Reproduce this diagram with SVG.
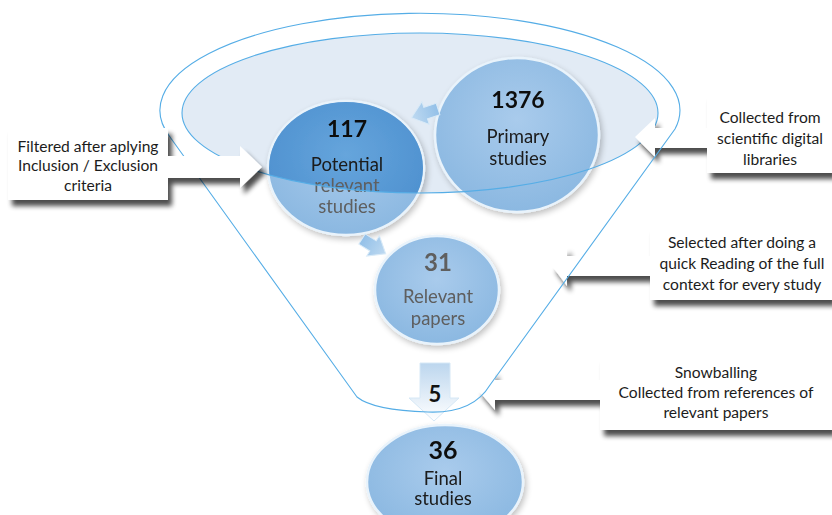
<svg xmlns="http://www.w3.org/2000/svg" width="832" height="515" viewBox="0 0 832 515">
<style>
.lbl{font-family:Lato,"Open Sans","Liberation Sans",sans-serif;font-size:15.6px;fill:#1c1c1c;text-anchor:middle}
.num{font-family:Lato,"Open Sans","Liberation Sans",sans-serif;font-weight:bold;text-anchor:middle;fill:#111}
.ctxt{font-family:Lato,"Open Sans","Liberation Sans",sans-serif;font-size:18.5px;text-anchor:middle;fill:#1a1a1a}
.grey{fill:#5e5e5e}
.outline{fill:none;stroke:#55ade6;stroke-width:1.1}
.callout{fill:#fff;filter:url(#shadow)}
.rim{stroke:#e9f3fb;stroke-width:2.5}
.small{fill:url(#arrowGrad);stroke:#d6e8f6;stroke-width:1}
</style>
<defs>
<filter id="shadow" x="-20%" y="-20%" width="140%" height="160%">
<feGaussianBlur in="SourceAlpha" stdDeviation="2.5"/>
<feOffset dx="4" dy="6" result="b"/>
<feComponentTransfer><feFuncA type="linear" slope="0.7"/></feComponentTransfer>
<feMerge><feMergeNode/><feMergeNode in="SourceGraphic"/></feMerge>
</filter>
<filter id="cshadow" x="-20%" y="-20%" width="140%" height="140%">
<feGaussianBlur in="SourceAlpha" stdDeviation="3"/>
<feOffset dx="2" dy="3"/>
<feComponentTransfer><feFuncA type="linear" slope="0.25"/></feComponentTransfer>
<feMerge><feMergeNode/><feMergeNode in="SourceGraphic"/></feMerge>
</filter>
<radialGradient id="lightBlue" cx="50%" cy="40%" r="60%">
<stop offset="0" stop-color="#a9cbec"/>
<stop offset="1" stop-color="#8bb8e1"/>
</radialGradient>
<radialGradient id="darkBlue" cx="50%" cy="40%" r="60%">
<stop offset="0" stop-color="#66a5dc"/>
<stop offset="1" stop-color="#4d90cf"/>
</radialGradient>
<linearGradient id="arrowGrad" x1="0" y1="0" x2="0" y2="1">
<stop offset="0" stop-color="#bcd6ee"/>
<stop offset="1" stop-color="#ffffff"/>
</linearGradient>
<linearGradient id="smallGrad" x1="0" y1="0" x2="1" y2="0">
<stop offset="0" stop-color="#93c0e8"/>
<stop offset="1" stop-color="#bfdaf1"/>
</linearGradient>
<clipPath id="topEllipse"><ellipse cx="420" cy="113" rx="238" ry="80"/></clipPath>
</defs>

<!-- funnel top fill -->
<ellipse cx="420" cy="113" rx="238" ry="80" fill="#dde8f3" fill-opacity="0.85"/>

<!-- nodes -->
<g id="n1376" filter="url(#cshadow)">
<ellipse cx="517" cy="135" rx="82" ry="77" fill="url(#lightBlue)" class="rim"/>
<text class="num" x="518" y="108" font-size="23">1376</text>
<text class="ctxt" x="518" y="143">Primary</text>
<text class="ctxt" x="518" y="165">studies</text>
</g>

<g id="n117" filter="url(#cshadow)">
<ellipse cx="346" cy="168" rx="78" ry="67" fill="url(#lightBlue)" class="rim"/>
<ellipse cx="346" cy="168" rx="77" ry="66" fill="url(#darkBlue)" clip-path="url(#topEllipse)"/>
<text class="num" x="347" y="137" font-size="23">117</text>
<text class="ctxt" x="347" y="171">Potential</text>
<text class="ctxt grey" x="347" y="192">relevant</text>
<text class="ctxt grey" x="347" y="213">studies</text>
</g>

<g id="n31" filter="url(#cshadow)">
<ellipse cx="437" cy="290" rx="62" ry="54" fill="url(#lightBlue)" class="rim"/>
<text class="num grey" x="438" y="271" font-size="24">31</text>
<text class="ctxt grey" x="438" y="303">Relevant</text>
<text class="ctxt grey" x="438" y="325">papers</text>
</g>

<g id="n36" filter="url(#cshadow)">
<ellipse cx="445" cy="482" rx="78" ry="57" fill="url(#lightBlue)" class="rim"/>
<text class="num" x="443" y="459" font-size="25" fill="#2a2a2a">36</text>
<text class="ctxt" x="443" y="485" font-size="16.5" fill="#333">Final</text>
<text class="ctxt" x="443" y="505" font-size="16.5" fill="#333">studies</text>
</g>

<!-- top ellipse edge drawn over circles -->
<ellipse cx="420" cy="113" rx="238" ry="80" class="outline"/>

<!-- connectors -->
<g id="connectors">
<polygon transform="translate(438,109) rotate(162)" points="0,-6 13,-6 13,-12 28,0 13,12 13,6 0,6" fill="url(#smallGrad)" stroke="#d9eaf7" stroke-width="1"/>
<polygon transform="translate(362,239) rotate(32)" points="0,-6 13,-6 13,-12 28,0 13,12 13,6 0,6" fill="url(#smallGrad)" stroke="#d9eaf7" stroke-width="1"/>
<g id="n5">
<polygon points="420,363 450,363 450,398 459,398 434,421 409,398 420,398" class="small"/>
<text class="num" x="435" y="402" font-size="22" fill="#222">5</text>
</g>
</g>

<!-- right callouts -->
<g id="c_collected">
<path class="callout" d="M832,95 V173 H707 V148 H655 V157 L635,137 L655,118 V128 H707 V95 Z"/>
<text class="lbl" x="770" y="123">Collected from</text>
<text class="lbl" x="770" y="144">scientific digital</text>
<text class="lbl" x="770" y="165">libraries</text>
</g>
<g id="c_selected">
<path class="callout" d="M832,228 V300 H650 V276 H567 V286 L552,266 L567,246 V256 H650 V228 Z"/>
<text class="lbl" x="742" y="248">Selected after doing a</text>
<text class="lbl" x="742" y="269">quick Reading of the full</text>
<text class="lbl" x="742" y="290">context for every study</text>
</g>
<g id="c_snow">
<path class="callout" d="M832,358 V430 H600 V400 H495 V410 L478,390 L495,370 V380 H600 V358 Z"/>
<text class="lbl" x="716" y="378">Snowballing</text>
<text class="lbl" x="716" y="398">Collected from references of</text>
<text class="lbl" x="716" y="418">relevant papers</text>
</g>

<!-- funnel outline -->
<path class="outline" d="M357,397 L170,137 A260 97 0 1 1 675,129 L490,385 C478,405 455,413 428,412 C395,411 368,406 357,397 Z"/>

<!-- left callout -->
<g id="c_filtered">
<path class="callout" d="M8,128 H168 V156 H240 V146 L262,167 L240,188 V178 H168 V200 H8 Z"/>
<text class="lbl" x="88" y="152">Filtered after aplying</text>
<text class="lbl" x="88" y="171">Inclusion / Exclusion</text>
<text class="lbl" x="88" y="191">criteria</text>
</g>
</svg>
